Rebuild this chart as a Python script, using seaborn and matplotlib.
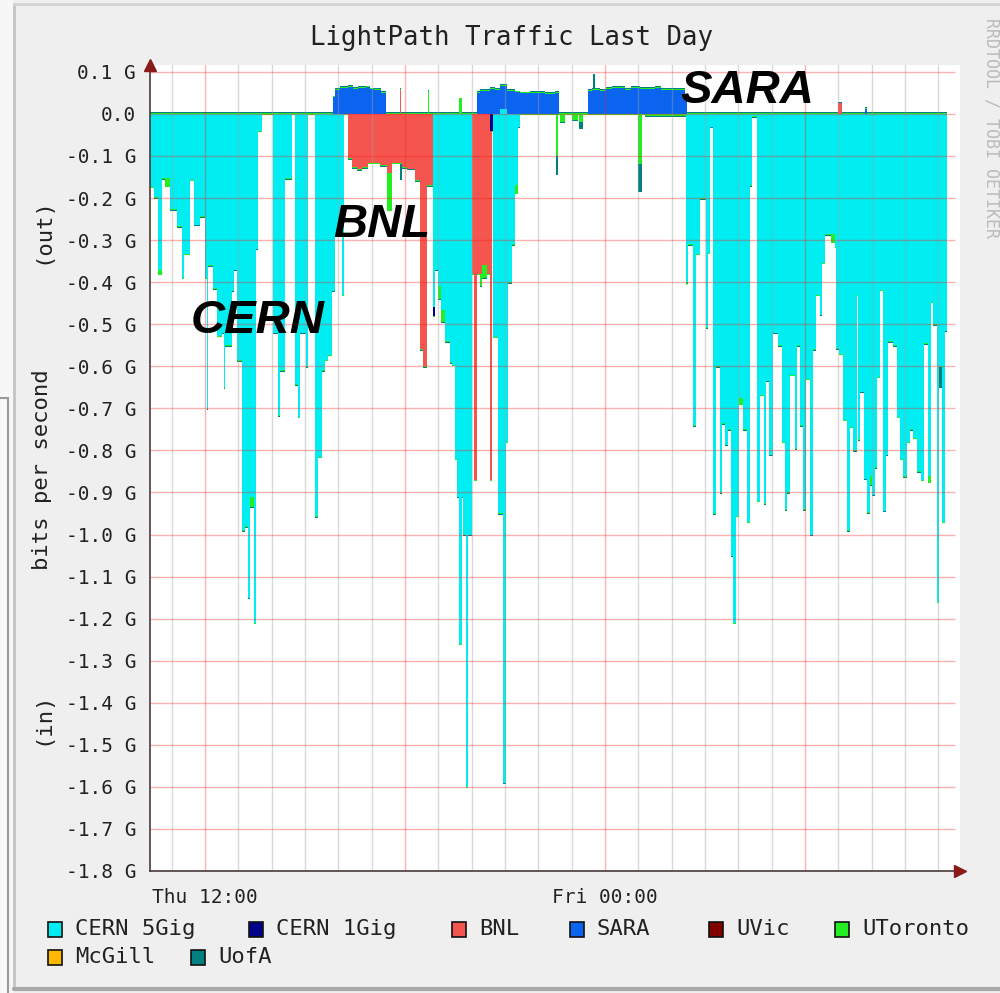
import numpy as np
import matplotlib
matplotlib.use('Agg')
import matplotlib.pyplot as plt
import seaborn as sns
from matplotlib.lines import Line2D
from matplotlib.patches import Rectangle

sns.set_style('white')
plt.rcParams['font.family'] = ['DejaVu Sans Mono']

# times are hours since Thu 00:00, values in G bit/s; each value holds until the next time
t_start = 10.35
t_end = 34.26

cern5_in_t = [10.35, 10.47, 10.59, 10.71, 10.95, 11.16, 11.31, 11.37, 11.55, 11.67, 11.85,
              12.00, 12.06, 12.09, 12.24, 12.36, 12.51, 12.57, 12.60, 12.81, 12.87, 12.96,
              13.11, 13.20, 13.29, 13.35, 13.47, 13.53, 13.59, 13.71, 14.04, 14.19, 14.25,
              14.40, 14.61, 14.70, 14.79, 14.85, 15.03, 15.09, 15.30, 15.39, 15.51, 15.60,
              15.69, 15.81, 15.90, 16.11, 16.17, 18.84, 18.90, 18.99, 19.08, 19.20, 19.35,
              19.41, 19.50, 19.56, 19.62, 19.71, 19.74, 19.83, 19.89, 20.01, 20.64, 20.79,
              20.94, 21.03, 21.09, 21.21, 21.30, 21.39, 21.45, 26.43, 26.49, 26.64, 26.73,
              26.85, 27.03, 27.09, 27.15, 27.24, 27.33, 27.45, 27.51, 27.60, 27.69, 27.78,
              27.84, 27.93, 28.02, 28.14, 28.26, 28.35, 28.41, 28.56, 28.65, 28.77, 28.83,
              28.92, 29.04, 29.19, 29.31, 29.40, 29.46, 29.55, 29.70, 29.76, 29.85, 29.94,
              30.03, 30.15, 30.24, 30.33, 30.45, 30.51, 30.60, 30.90, 30.93, 31.02, 31.14,
              31.26, 31.35, 31.44, 31.56, 31.59, 31.65, 31.77, 31.86, 31.95, 32.01, 32.10,
              32.16, 32.25, 32.34, 32.43, 32.49, 32.64, 32.76, 32.85, 32.94, 33.06, 33.15,
              33.24, 33.36, 33.48, 33.57, 33.69, 33.78, 33.84, 33.96, 34.02, 34.11, 34.20,
              34.26]
cern5_in_v = [-0.173, -0.198, -0.37, -0.153, -0.227, -0.267, -0.39, -0.333, -0.157, -0.263, -0.243,
              -0.39, -0.70, -0.36, -0.414, -0.528, -0.52, -0.65, -0.55, -0.42, -0.37, -0.586,
              -0.99, -0.98, -1.15, -0.91, -1.21, -0.32, -0.04, 0.0, -0.52, -0.716, -0.61,
              -0.153, 0.0, -0.643, -0.72, -0.52, -0.60, 0.0, -0.957, -0.815, -0.61, -0.585,
              -0.573, -0.42, -0.29, -0.43, 0.0, -0.46, -0.37, -0.41, -0.465, -0.54, -0.59,
              -0.597, -0.82, -0.91, -1.26, -0.91, -1.0, -1.60, -1.0, 0.0, -0.53, -0.95,
              -1.59, -0.78, -0.40, -0.31, -0.17, -0.03, 0.0, -0.40, -0.31, -0.74, -0.333,
              -0.20, -0.507, -0.33, -0.03, -0.95, -0.60, -0.90, -0.735, -0.786, -0.75, -1.05,
              -1.21, -0.956, -0.676, -0.75, -0.97, -0.17, -0.005, -0.92, -0.668, -0.926, -0.634,
              -0.81, -0.52, -0.55, -0.78, -0.94, -0.90, -0.62, -0.795, -0.55, -0.74, -0.94,
              -0.63, -1.0, -0.56, -0.43, -0.477, -0.354, -0.286, -0.316, -0.557, -0.57, -0.727,
              -0.99, -0.744, -0.80, -0.43, -0.774, -0.66, -0.867, -0.947, -0.862, -0.905, -0.84,
              -0.625, -0.418, -0.943, -0.81, -0.54, -0.55, -0.72, -0.82, -0.862, -0.78, -0.75,
              -0.77, -0.85, -0.87, -0.545, -0.862, -0.447, -0.50, -1.16, -0.60, -0.97, -0.515,
              0.0]
cern5_out_t = [10.35, 20.85, 21.06]
cern5_out_v = [0.0, 0.012, 0.0]

cern1_in_t = [10.35, 18.84, 18.90, 20.55, 20.64]
cern1_in_v = [0.0, -0.02, 0.0, -0.04, 0.0]
cern1_out_t = [10.35]
cern1_out_v = [0.0]

bnl_in_t = [10.35, 16.29, 16.41, 16.56, 16.71, 16.89, 17.25, 17.46, 17.61, 17.91, 18.06,
            18.30, 18.45, 18.54, 18.66, 18.84, 20.01, 20.07, 20.16, 20.31, 20.46, 20.55, 20.61]
bnl_in_v = [0.0, -0.105, -0.127, -0.132, -0.127, -0.116, -0.122, -0.14, -0.116, -0.127, -0.13,
            -0.158, -0.56, -0.60, -0.17, 0.0, -0.38, -0.87, -0.38, -0.36, -0.38, -0.83, 0.0]
bnl_out_t = [10.35, 17.85, 17.88, 30.99, 31.11]
bnl_out_v = [0.0, 0.057, 0.0, 0.025, 0.0]

sara_in_t = [10.35]
sara_in_v = [0.0]
sara_out_t = [10.35, 15.84, 15.90, 16.05, 16.29, 16.44, 16.59, 16.83, 16.95, 17.07, 17.28, 17.43,
              20.16, 20.25, 20.55, 20.70, 20.85, 21.30, 21.45, 21.75, 22.20, 22.50, 22.62,
              23.49, 23.61, 23.85, 24.03, 24.21, 24.60, 24.78, 25.05, 25.50, 25.68, 25.95,
              26.40, 26.46, 31.80, 31.86]
sara_out_v = [0.0, 0.04, 0.058, 0.062, 0.065, 0.06, 0.062, 0.064, 0.059, 0.058, 0.05, 0.0,
              0.05, 0.055, 0.06, 0.057, 0.055, 0.052, 0.049, 0.05, 0.048, 0.05, 0.0,
              0.055, 0.058, 0.055, 0.06, 0.062, 0.058, 0.062, 0.06, 0.062, 0.058, 0.058,
              0.045, 0.0, 0.012, 0.0]

uvic_in_t = [10.35]
uvic_in_v = [0.0]
uvic_out_t = [10.35]
uvic_out_v = [0.0]

utor_in_t = [10.35, 10.59, 10.71, 10.80, 10.95, 13.35, 13.47, 17.46, 17.61, 18.99, 19.20,
             20.25, 20.46, 21.30, 21.39, 22.53, 22.59, 22.65, 22.80, 23.01, 23.19, 23.22,
             23.34, 24.99, 25.11, 25.20, 26.46, 28.02, 28.14, 30.78, 30.90, 31.95, 32.01,
             33.69, 33.78, 34.26]
utor_in_v = [-0.002, -0.012, -0.002, -0.02, -0.002, -0.025, -0.002, -0.09, -0.002, -0.03, -0.002,
             -0.03, -0.002, -0.02, -0.002, -0.10, -0.002, -0.02, -0.002, -0.015, -0.002, -0.02,
             -0.002, -0.12, -0.002, -0.006, -0.002, -0.015, -0.002, -0.02, -0.002, -0.02, -0.002,
             -0.015, -0.002, 0.0]
utor_out_t = [10.35, 18.69, 18.72, 19.62, 19.71, 34.26]
utor_out_v = [0.002, 0.055, 0.002, 0.037, 0.002, 0.0]

mcgill_in_t = [10.35]
mcgill_in_v = [0.0]
mcgill_out_t = [10.35]
mcgill_out_v = [0.0]

uofa_in_t = [10.35, 17.85, 17.91, 22.53, 22.59, 23.22, 23.34, 24.99, 25.11, 34.02, 34.11, 34.26]
uofa_in_v = [-0.0015, -0.04, -0.0015, -0.045, -0.0015, -0.015, -0.0015, -0.065, -0.0015, -0.05,
             -0.0015, 0.0]
uofa_out_t = [10.35, 23.64, 23.70, 34.26]
uofa_out_v = [0.0015, 0.034, 0.0015, 0.0]

names = ['CERN 5Gig', 'CERN 1Gig', 'BNL', 'SARA', 'UVic', 'UToronto', 'McGill', 'UofA']
palette = sns.color_palette(['#00EEF2', '#00008B', '#F5554F', '#0A64F0',
                             '#800000', '#22EE22', '#FFB800', '#008080'])

y_ticks = [round(-1.8 + 0.1 * i, 1) for i in range(20)]
x_ticks = [12, 24]
x_tick_labels = ['Thu 12:00', 'Fri 00:00']

out_series = [(cern5_out_t, cern5_out_v), (cern1_out_t, cern1_out_v), (bnl_out_t, bnl_out_v),
              (sara_out_t, sara_out_v), (uvic_out_t, uvic_out_v), (utor_out_t, utor_out_v),
              (mcgill_out_t, mcgill_out_v), (uofa_out_t, uofa_out_v)]
in_series = [(cern5_in_t, cern5_in_v), (cern1_in_t, cern1_in_v), (bnl_in_t, bnl_in_v),
             (sara_in_t, sara_in_v), (uvic_in_t, uvic_in_v), (utor_in_t, utor_in_v),
             (mcgill_in_t, mcgill_in_v), (uofa_in_t, uofa_in_v)]

grid = np.unique(np.concatenate([np.asarray(t) for t, v in out_series + in_series] + [[t_end]]))


def on_grid(t, v):
    # value of the step series at every grid time
    idx = np.searchsorted(np.asarray(t), grid, side='right') - 1
    return np.asarray(v, dtype=float)[idx]


fig = plt.figure(figsize=(10, 9.93), dpi=100, facecolor='#efefef')
ax = fig.add_axes([0.15, 0.1229, 0.81, 0.8117])
ax.set_facecolor('white')

x_max = 34.65
y_top = 0.1165
ax.set_xlim(t_start, x_max)
ax.set_ylim(-1.8, y_top)

for series in (out_series, in_series):
    base = np.zeros_like(grid)
    for (t, v), color in zip(series, palette):
        top = base + on_grid(t, v)
        ax.fill_between(grid, base, top, step='post', color=color, linewidth=0,
                        antialiased=False, zorder=2)
        base = top

# grid drawn over the data, rrdtool style
for h in range(11, 35):
    if h % 6 == 0:
        ax.axvline(h, color='#ff2020', alpha=0.35, lw=1, zorder=3)
    else:
        ax.axvline(h, color='#a0a0a0', alpha=0.4, lw=1, zorder=3)
ax.hlines(y_ticks, t_start, 34.5, color='#ff2020', alpha=0.35, lw=1, zorder=3)

for side in ['top', 'right']:
    ax.spines[side].set_visible(False)
for side in ['left', 'bottom']:
    ax.spines[side].set_color('#4a3a3a')
    ax.spines[side].set_linewidth(1.2)
    ax.spines[side].set_zorder(4)

ax.plot([t_start], [y_top], marker='^', ms=8, color='#8b1a1a', clip_on=False, zorder=5)
ax.plot([x_max], [-1.8], marker='>', ms=8, color='#8b1a1a', clip_on=False, zorder=5)

ax.set_yticks(y_ticks)
ax.set_yticklabels(['0.0' if v == 0 else '{:.1f} G'.format(v) for v in y_ticks],
                   fontsize=14, color='#222222')
ax.set_xticks(x_ticks)
ax.set_xticklabels(x_tick_labels, fontsize=14, color='#222222')
ax.tick_params(axis='y', length=3, width=1, color='#4a3a3a', pad=7)
ax.tick_params(axis='x', length=0, pad=12)

# labels on the data
ax.text(13.575, -0.521, 'CERN', family='Liberation Sans', weight='bold', style='italic',
        fontsize=34, color='black', ha='center', va='baseline', zorder=6)
ax.text(17.295, -0.2925, 'BNL', family='Liberation Sans', weight='bold', style='italic',
        fontsize=34, color='black', ha='center', va='baseline', zorder=6)
ax.text(28.275, 0.0255, 'SARA', family='Liberation Sans', weight='bold', style='italic',
        fontsize=34, color='black', ha='center', va='baseline', zorder=6, clip_on=False)

fig.text(0.512, 0.962, 'LightPath Traffic Last Day', ha='center', va='center',
         fontsize=18.5, color='#222222')
fig.text(0.042, 0.768, '(out)', rotation=90, ha='center', va='center', fontsize=16, color='#222222')
fig.text(0.042, 0.527, 'bits per second', rotation=90, ha='center', va='center',
         fontsize=16, color='#222222')
fig.text(0.042, 0.277, '(in)', rotation=90, ha='center', va='center', fontsize=16, color='#222222')
fig.text(0.9917, 0.8716, 'RRDTOOL / TOBI OETIKER', rotation=270, ha='center', va='center',
         fontsize=12, color='#bbbbbb')

# legend
legend_pos = [(48, 929), (249, 929), (452, 929), (570, 929), (709, 929), (835, 929),
              (48, 957), (191, 957)]
for name, color, (px, py) in zip(names, palette, legend_pos):
    fig.add_artist(Rectangle((px / 1000, 1 - (py + 7.5) / 993), 0.014, 15 / 993,
                             transform=fig.transFigure, facecolor=color,
                             edgecolor='#111111', lw=1.2))
    fig.text((px + 27) / 1000, 1 - py / 993, name, ha='left', va='center',
             fontsize=16, color='#222222')

# canvas frame
fig.add_artist(Rectangle((0, 0), 0.013, 1, transform=fig.transFigure,
                         facecolor='#f7f7f7', edgecolor='none'))
fig.add_artist(Line2D([0.014, 0.014], [0.004, 0.996], transform=fig.transFigure,
                      color='#c4c4c4', lw=2))
fig.add_artist(Line2D([0.014, 1.0], [0.996, 0.996], transform=fig.transFigure,
                      color='#d4d4d4', lw=2))
fig.add_artist(Line2D([0.014, 1.0], [0.004, 0.004], transform=fig.transFigure,
                      color='#a8a8a8', lw=3))
fig.add_artist(Line2D([0.008, 0.008], [0.0, 0.599], transform=fig.transFigure,
                      color='#9a9a9a', lw=1.5))
fig.add_artist(Line2D([0.0, 0.008], [0.599, 0.599], transform=fig.transFigure,
                      color='#9a9a9a', lw=1.5))

fig.savefig('out.png', dpi=100, facecolor=fig.get_facecolor())
